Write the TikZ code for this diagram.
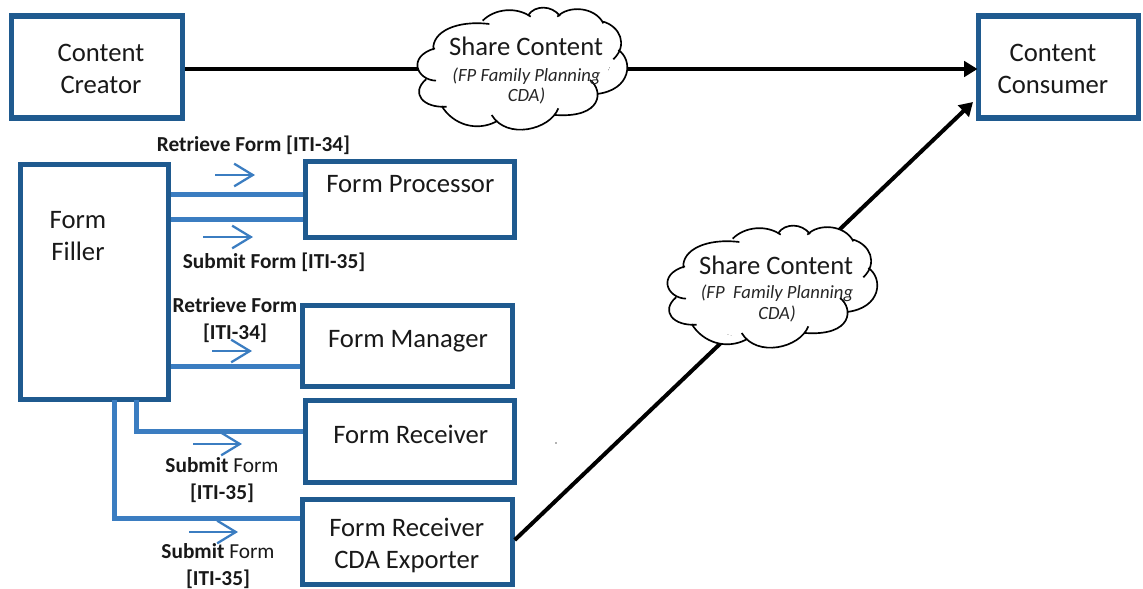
\documentclass[tikz,border=0pt]{standalone}
\usepackage{fontspec}
\setmainfont{Carlito}
\usetikzlibrary{arrows.meta}
\definecolor{boxblue}{HTML}{1F5A8F}
\definecolor{linkblue}{HTML}{3B7DC1}
\tikzset{
  x=0.75pt,y=-0.75pt,
  boxs/.style={draw=boxblue,line width=3.9pt,fill=white,inner sep=0pt,minimum width=#1},
  lab/.style={font=\fontsize{20}{24}\selectfont,align=center,inner sep=0pt,text=black!90},
  tag/.style={font=\fontsize{16}{20}\selectfont,align=center,inner sep=0pt,text=black!90},
  cloudtitle/.style={font=\fontsize{20}{24}\selectfont,inner sep=0pt,text=black!90},
  cloudsub/.style={font=\fontsize{14}{15.5}\selectfont\itshape,align=center,inner sep=0pt,text=black!85},
  link/.style={draw=linkblue,line width=3.75pt},
  flow/.style={draw=linkblue,line width=1.5pt,-{Straight Barb[length=14pt,width=17pt,line width=1.7pt]}},
  main/.style={draw=black,line width=3pt,-{Triangle[length=10pt,width=11.5pt]}},
  cloudline/.style={draw=black,line width=1.25pt}
}
\newcommand{\lobes}{
  (100,150) .. controls (95,95) and (170,60) .. (268,72)
  (248,62) .. controls (285,25) and (350,20) .. (392,50)
  (385,45) .. controls (405,15) and (455,15) .. (480,48)
  (472,50) .. controls (505,15) and (585,20) .. (610,70)
  (610,65) .. controls (660,80) and (685,135) .. (640,178)
  (655,150) .. controls (700,180) and (695,270) .. (590,282)
  (570,240) .. controls (610,270) and (610,355) .. (465,345)
  (475,325) .. controls (450,390) and (320,420) .. (275,345)
  (288,365) .. controls (230,395) and (160,375) .. (125,318)
  (140,320) .. controls (70,325) and (30,280) .. (78,238)
  (108,242) .. controls (50,240) and (20,170) .. (105,145)
}
\newcommand{\cloudart}{
  \fill[white] (100,150) -- (268,72) -- (392,50) -- (480,48) -- (610,70) -- (640,178)
     -- (590,282) -- (465,345) -- (288,365) -- (125,318) -- (78,238) -- cycle;
  \fill[white] \lobes;
  \draw[cloudline] \lobes;
}
\begin{document}
\begin{tikzpicture}
\useasboundingbox (0,0) rectangle (1143,589);
% boxes
\node[boxs=128.25pt,minimum height=76.5pt] (creator) at (97,67) {};
\node[boxs=120pt,minimum height=76.5pt] (consumer) at (1058.5,67) {};
\node[boxs=110.75pt,minimum height=175.8pt] (filler) at (94.3,282) {};
\node[boxs=156.75pt,minimum height=57pt] (processor) at (410.3,199.5) {};
\node[boxs=157.25pt,minimum height=61pt] (manager) at (407.3,346) {};
\node[boxs=156.75pt,minimum height=61.25pt] (receiver) at (410.3,441.7) {};
\node[boxs=157.25pt,minimum height=63.3pt] (exporter) at (407.3,542) {};
% connectors
\draw[main,shorten >=-1.2pt] (creator.east |- 0,69) -- (consumer.west |- 0,69);
\draw[main] (exporter.east |- 0,540) -- (973,102);
\draw[link] (filler.east |- 0,194) -- (processor.west |- 0,194);
\draw[link] (filler.east |- 0,219) -- (processor.west |- 0,219);
\draw[link] (filler.east |- 0,366) -- (manager.west |- 0,366);
\draw[link] (136,400) |- (receiver.west |- 0,431);
\draw[link] (114,400) |- (exporter.west |- 0,518);
% flow arrows
\draw[flow] (215,175) -- (255,175);
\draw[flow] (203,237) -- (253,237);
\draw[flow] (212,351) -- (252,351);
\draw[flow] (193,444) -- (242,444);
\draw[flow] (189,532) -- (238,532);
% clouds
\begin{scope}[shift={(400,0)},x=0.25pt,y=-0.25pt]\cloudart\end{scope}
\begin{scope}[shift={(650,218)},x=0.25pt,y=-0.25pt]\cloudart\end{scope}
\node[cloudtitle] (c1t) at (526,46) {Share Content};
\node[cloudsub] (c1s) at (526.5,86) {(FP Family Planning\\CDA)};
\node[cloudtitle] (c2t) at (776,265) {Share Content};
\node[cloudsub] (c2s) at (777,303.5) {(FP\ \ Family Planning\\CDA)};
% box texts
\node[lab] (t1) at (101,69) {Content\\Creator};
\node[lab] (t2) at (1053,69) {Content\\Consumer};
\node[lab] (t3) at (78,236) {Form\\Filler};
\node[lab] (t4) at (410.3,184) {Form Processor};
\node[lab] (t5) at (408,341) {Form Manager};
\node[lab] (t6) at (410.7,434) {Form Receiver};
\node[lab] (t7) at (406.7,545) {Form Receiver\\CDA Exporter};
% interaction labels
\node[tag] (l1) at (253.5,145) {\bfseries Retrieve Form [ITI-34]};
\node[tag] (l2) at (274,262) {\bfseries Submit Form [ITI-35]};
\node[tag] (l3) at (235,320) {\bfseries Retrieve Form\\\bfseries [ITI-34]};
\node[tag] (l4) at (222,480) {\textbf{Submit} Form\\\textbf{[ITI-35]}};
\node[tag] (l5) at (218,566) {\textbf{Submit} Form\\\textbf{[ITI-35]}};
\fill[black!60] (556,443) circle (0.6pt);
\end{tikzpicture}
\end{document}
